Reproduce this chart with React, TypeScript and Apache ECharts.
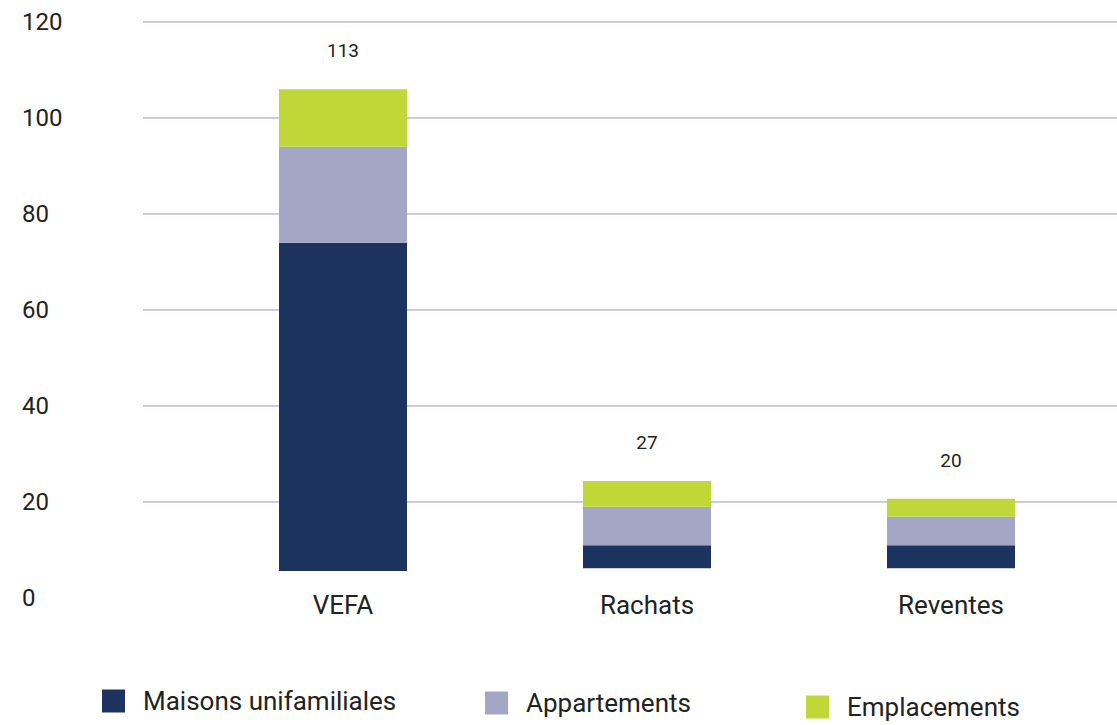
import React, { useEffect, useRef } from "react";
import * as echarts from "echarts";

const categories = ["VEFA", "Rachats", "Reventes"];
// the bars float slightly above the 0 line in the reference
const barBase = [5.6, 6.2, 6.2];
const maisons = [68.4, 4.8, 4.8];
const appartements = [20, 8, 6];
const emplacements = [12, 5.4, 3.7];
const totals = [113, 27, 20];
const yTicks = [0, 20, 40, 60, 80, 100, 120];

const FONT = "Roboto, 'Noto Sans', sans-serif";
const TEXT = "#222222";

export default function App() {
  const ref = useRef<HTMLDivElement>(null);
  useEffect(() => {
    if (!ref.current) return;
    const chart = echarts.init(ref.current, null, { renderer: "svg" });
    const yMin = yTicks[0];
    const yMax = yTicks[yTicks.length - 1];
    const step = yTicks[1] - yTicks[0];
    const legendText = { color: TEXT, fontSize: 26, fontFamily: FONT, padding: [0, 0, 0, 13] };
    const legendBase = { itemWidth: 23, itemHeight: 23, icon: "rect", padding: 0, textStyle: legendText };
    chart.setOption({
      animation: false,
      backgroundColor: "#ffffff",
      textStyle: { fontFamily: FONT },
      grid: [
        { left: 143, right: 0, top: 22, bottom: 127 },
        { left: 191, right: 14, top: 22, bottom: 127 },
      ],
      xAxis: [
        { gridIndex: 0, type: "value", show: false, min: 0, max: 1 },
        {
          gridIndex: 1,
          type: "category",
          data: categories,
          axisLine: { show: false },
          axisTick: { show: false },
          axisLabel: {
            color: TEXT,
            fontSize: 26,
            fontFamily: FONT,
            margin: 7,
            verticalAlign: "middle",
          },
        },
      ],
      yAxis: [
        {
          gridIndex: 0,
          type: "value",
          min: yMin,
          max: yMax,
          interval: step,
          axisLine: { show: false },
          axisTick: { show: false },
          axisLabel: {
            color: TEXT,
            fontSize: 24,
            fontFamily: FONT,
            align: "left",
            margin: 121,
          },
          splitLine: {
            show: true,
            showMinLine: false,
            lineStyle: { color: "#babbd4", width: 1.5 },
          },
        },
        {
          gridIndex: 1,
          type: "value",
          min: yMin,
          max: yMax,
          interval: step,
          show: false,
          splitLine: { show: false },
        },
      ],
      legend: [
        { ...legendBase, data: ["Maisons unifamiliales"], left: 102, top: 688 },
        { ...legendBase, data: ["Appartements"], left: 485, top: 690 },
        { ...legendBase, data: ["Emplacements"], left: 806, top: 694 },
      ],
      series: [
        {
          name: "base",
          type: "bar",
          stack: "total",
          xAxisIndex: 1,
          yAxisIndex: 1,
          barWidth: 128,
          data: barBase,
          itemStyle: { color: "rgba(0,0,0,0)" },
          silent: true,
        },
        {
          name: "Maisons unifamiliales",
          type: "bar",
          stack: "total",
          xAxisIndex: 1,
          yAxisIndex: 1,
          barWidth: 128,
          data: maisons,
          itemStyle: { color: "#1d335f" },
        },
        {
          name: "Appartements",
          type: "bar",
          stack: "total",
          xAxisIndex: 1,
          yAxisIndex: 1,
          barWidth: 128,
          data: appartements,
          itemStyle: { color: "#a3a7c5" },
        },
        {
          name: "Emplacements",
          type: "bar",
          stack: "total",
          xAxisIndex: 1,
          yAxisIndex: 1,
          barWidth: 128,
          data: emplacements,
          itemStyle: { color: "#c0d837" },
          label: {
            show: true,
            position: "top",
            distance: 29,
            color: TEXT,
            fontSize: 19,
            fontFamily: FONT,
            formatter: (p: any) => String(totals[p.dataIndex]),
          },
        },
      ],
    });
    return () => chart.dispose();
  }, []);
  return (
    <div
      ref={ref}
      style={{ position: "fixed", left: 0, top: 0, width: 1117, height: 725 }}
    />
  );
}
